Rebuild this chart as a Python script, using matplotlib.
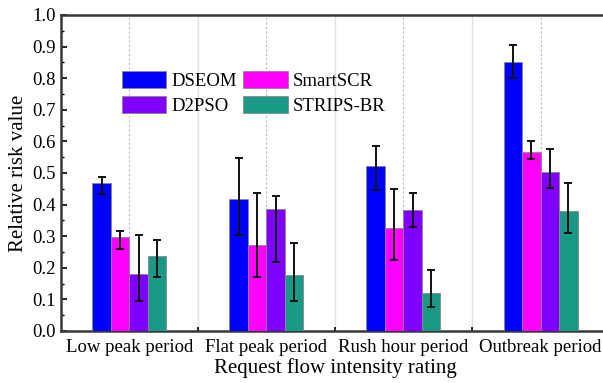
import numpy as np
import matplotlib.pyplot as plt
from matplotlib.ticker import MultipleLocator

plt.rcParams['font.family'] = ['Liberation Serif', 'DejaVu Serif']

# data
periods = ['Low peak period', 'Flat peak period', 'Rush hour period', 'Outbreak period']
methods = ['DSEOM', 'SmartSCR', 'D2PSO', 'STRIPS-BR']
colors = ['#0000ff', '#ff00ff', '#7f00ff', '#1a9a86']

dseom = [0.469, 0.418, 0.522, 0.852]
dseom_lo = [0.432, 0.305, 0.446, 0.802]
dseom_hi = [0.488, 0.546, 0.584, 0.905]

smartscr = [0.296, 0.272, 0.325, 0.567]
smartscr_lo = [0.260, 0.172, 0.226, 0.544]
smartscr_hi = [0.317, 0.438, 0.449, 0.601]

d2pso = [0.180, 0.385, 0.384, 0.504]
d2pso_lo = [0.094, 0.217, 0.329, 0.453]
d2pso_hi = [0.305, 0.426, 0.437, 0.575]

strips = [0.237, 0.177, 0.120, 0.381]
strips_lo = [0.170, 0.096, 0.077, 0.311]
strips_hi = [0.287, 0.278, 0.193, 0.467]

vals = [dseom, smartscr, d2pso, strips]
los = [dseom_lo, smartscr_lo, d2pso_lo, strips_lo]
his = [dseom_hi, smartscr_hi, d2pso_hi, strips_hi]

fig = plt.figure(figsize=(6.03, 3.83), dpi=100)
ax = fig.add_axes([0.101, 0.136, 0.909, 0.825])

x = np.arange(len(periods))
w = 0.135
for i in range(4):
    v = np.array(vals[i])
    err = [v - np.array(los[i]), np.array(his[i]) - v]
    pos = x + (i - 1.5) * w
    ax.bar(pos, v, w, color=colors[i], edgecolor='#888888', linewidth=0.6,
           label=methods[i], zorder=3)
    ax.errorbar(pos, v, yerr=err, fmt='none', ecolor='#111111', elinewidth=1.4,
                capsize=3, capthick=1.4, zorder=4)

# separators and center guides
for b in np.arange(0.5, 3.5, 1):
    ax.axvline(b, color='#e0e0e0', lw=1.0, zorder=1)
for c in x:
    ax.axvline(c, color='#bbbbbb', lw=0.8, ls=(0, (2, 2)), zorder=1)

ax.set_xlim(-0.5, 3.5)
ax.set_ylim(0, 1.0)
ax.yaxis.set_major_locator(MultipleLocator(0.1))
ax.yaxis.set_minor_locator(MultipleLocator(0.05))
ax.set_yticks(np.arange(0, 1.01, 0.1))
ax.set_yticklabels([f'{t:.1f}' for t in np.arange(0, 1.01, 0.1)])
ax.set_xticks(x)
ax.set_xticklabels(periods)
ax.set_xticks(np.arange(0.5, 3.5, 1), minor=True)
ax.tick_params(axis='x', which='major', length=0, labelsize=13.5, pad=6)
ax.tick_params(axis='x', which='minor', direction='in', length=3, width=1.2)
ax.tick_params(axis='y', which='major', direction='in', length=4, width=1.2, labelsize=13.5)
ax.tick_params(axis='y', which='minor', direction='in', length=2.5, width=1.0)

for s in ax.spines.values():
    s.set_linewidth(1.8)
    s.set_color('#383838')

ax.set_xlabel('Request flow intensity rating', fontsize=15, labelpad=1)
ax.set_ylabel('Relative risk value', fontsize=15, labelpad=3)

h, l = ax.get_legend_handles_labels()
order = [0, 2, 1, 3]
ax.legend([h[k] for k in order], [l[k] for k in order], ncol=2, frameon=False,
          fontsize=13.5, loc='upper left', bbox_to_anchor=(0.111, 0.823),
          borderaxespad=0, borderpad=0,
          handlelength=2.35, handleheight=1.05, columnspacing=0.35,
          handletextpad=0.3, labelspacing=0.3)

fig.savefig('out.png', dpi=100)
